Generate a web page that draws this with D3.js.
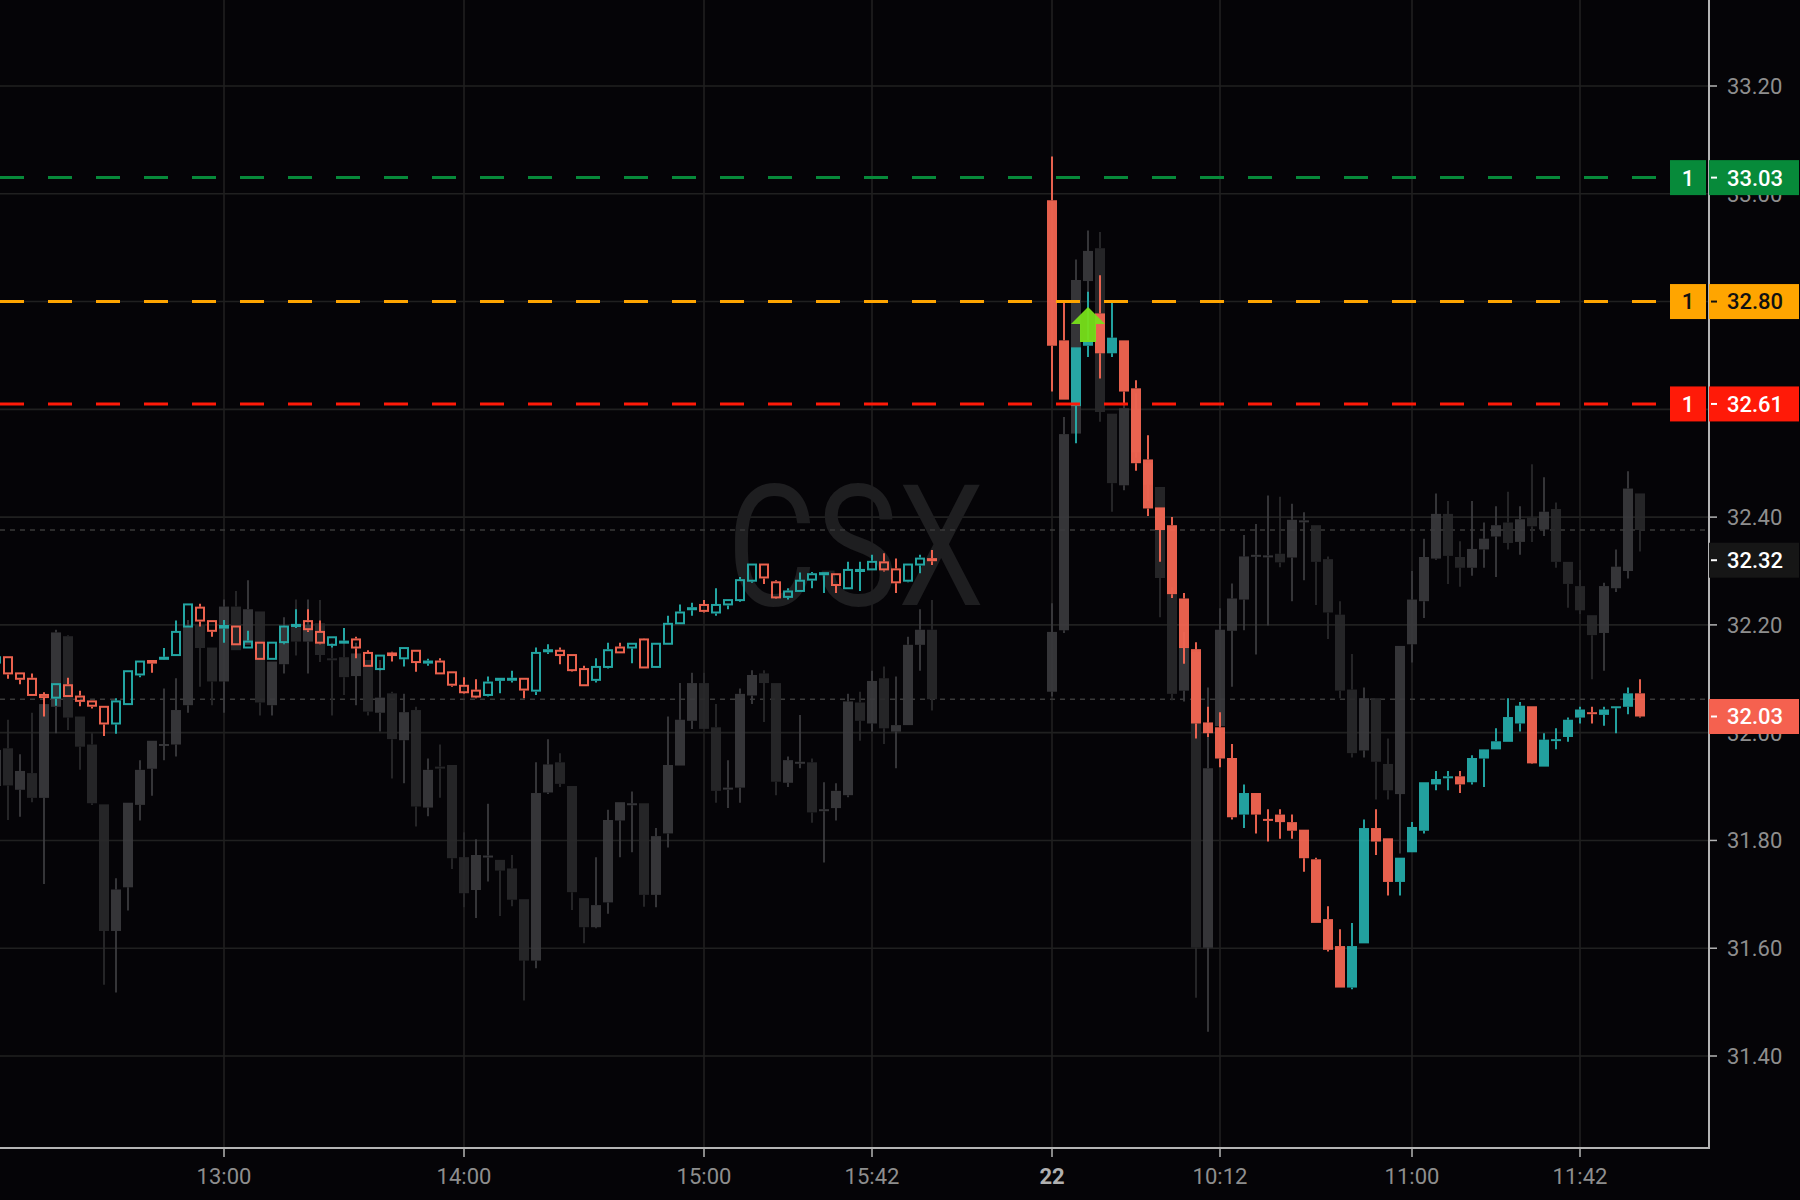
<!DOCTYPE html>
<html><head><meta charset="utf-8">
<script src="https://cdn.jsdelivr.net/npm/d3@7"></script>
<style>html,body{margin:0;padding:0;background:#050407;}svg{display:block}</style>
</head><body><svg id="chart" width="1800" height="1200"></svg>
<script>
// ---------------- DATA ----------------
const symbol = "CSX";
const barMinutes = 3;
const day1Start = "12:03";
const day2Start = "09:30";
// CSX candles [open, high, low, close]
const csxDay1 = [
[32.13,32.145,32.125,32.14],[32.14,32.14,32.10,32.11],[32.11,32.11,32.09,32.10],[32.10,32.11,32.07,32.07],
[32.07,32.075,32.03,32.066],[32.065,32.09,32.05,32.09],[32.088,32.102,32.066,32.068],[32.067,32.078,32.049,32.059],
[32.058,32.058,32.045,32.05],[32.048,32.048,31.994,32.017],[32.017,32.064,31.998,32.058],[32.053,32.114,32.052,32.114],
[32.108,32.132,32.103,32.132],[32.133,32.135,32.111,32.13],[32.137,32.157,32.135,32.139],[32.144,32.208,32.144,32.187],
[32.197,32.238,32.197,32.238],[32.232,32.239,32.197,32.208],[32.207,32.207,32.178,32.189],
[32.195,32.209,32.167,32.198],[32.197,32.197,32.164,32.164],[32.158,32.189,32.158,32.169],[32.167,32.167,32.137,32.137],
[32.137,32.167,32.137,32.167],[32.168,32.197,32.164,32.197],[32.198,32.229,32.194,32.2],[32.207,32.229,32.187,32.192],
[32.187,32.208,32.164,32.167],[32.163,32.177,32.158,32.177],[32.167,32.194,32.166,32.169],[32.173,32.178,32.138,32.158],
[32.148,32.153,32.124,32.124],[32.118,32.143,32.116,32.143],[32.147,32.15,32.132,32.144],[32.138,32.157,32.123,32.157],
[32.152,32.152,32.113,32.131],[32.13,32.137,32.124,32.132],[32.132,32.138,32.11,32.11],[32.112,32.112,32.085,32.089],
[32.087,32.103,32.072,32.075],[32.078,32.099,32.064,32.067],[32.07,32.104,32.067,32.093],[32.098,32.1,32.073,32.1],
[32.099,32.115,32.093,32.1],[32.1,32.1,32.064,32.08],[32.078,32.158,32.07,32.148],[32.151,32.164,32.146,32.153],
[32.152,32.158,32.127,32.144],[32.144,32.144,32.113,32.116],[32.118,32.124,32.087,32.088],[32.098,32.138,32.093,32.122],
[32.122,32.167,32.119,32.153],[32.158,32.167,32.149,32.149],[32.158,32.165,32.129,32.165],[32.173,32.175,32.119,32.121],
[32.122,32.167,32.122,32.165],[32.165,32.217,32.165,32.202],[32.203,32.238,32.203,32.223],[32.229,32.241,32.217,32.231],
[32.237,32.246,32.223,32.226],[32.223,32.268,32.217,32.237],[32.238,32.246,32.229,32.246],[32.246,32.289,32.243,32.283],
[32.282,32.312,32.278,32.312],[32.312,32.312,32.276,32.288],[32.279,32.283,32.248,32.251],[32.252,32.268,32.247,32.262],
[32.263,32.297,32.263,32.282],[32.284,32.298,32.268,32.294],[32.294,32.297,32.259,32.296],[32.294,32.294,32.259,32.274],
[32.268,32.317,32.268,32.302],[32.3,32.317,32.263,32.302],[32.303,32.33,32.303,32.317],[32.316,32.333,32.299,32.303],
[32.303,32.323,32.259,32.279],[32.282,32.312,32.279,32.312],[32.312,32.33,32.296,32.323],[32.322,32.339,32.311,32.32]
];
const csxDay2 = [
[32.988,33.069,32.633,32.718],[32.728,32.801,32.618,32.618],[32.606,32.715,32.537,32.715],[32.718,32.818,32.697,32.728],
[32.778,32.849,32.657,32.704],[32.704,32.801,32.697,32.733],[32.728,32.728,32.608,32.633],[32.639,32.654,32.486,32.5],
[32.507,32.552,32.402,32.416],[32.418,32.418,32.317,32.376],[32.385,32.40,32.25,32.257],[32.249,32.259,32.128,32.157],
[32.155,32.168,31.989,32.017],[32.019,32.048,31.992,31.999],[32.01,32.038,31.936,31.952],[31.953,31.979,31.839,31.843],
[31.848,31.904,31.823,31.888],[31.888,31.888,31.813,31.848],[31.84,31.858,31.798,31.838],[31.848,31.858,31.803,31.834],
[31.834,31.848,31.803,31.818],[31.82,31.82,31.742,31.767],[31.765,31.768,31.647,31.647],[31.654,31.678,31.594,31.597],
[31.604,31.635,31.527,31.527],[31.527,31.647,31.524,31.604],[31.609,31.839,31.609,31.823],[31.823,31.858,31.773,31.798],
[31.804,31.804,31.698,31.723],[31.723,31.768,31.698,31.768],[31.778,31.834,31.778,31.825],[31.818,31.908,31.813,31.908],
[31.904,31.929,31.893,31.914],[31.918,31.929,31.893,31.919],[31.919,31.929,31.888,31.904],[31.908,31.958,31.904,31.953],
[31.952,31.969,31.899,31.969],[31.969,32.008,31.969,31.984],[31.983,32.064,31.983,32.029],[32.017,32.057,32.002,32.05],
[32.049,32.049,31.942,31.943],[31.937,31.999,31.937,31.987],[31.987,32.008,31.969,31.988],[31.992,32.028,31.983,32.024],
[32.028,32.048,32.017,32.043],[32.038,32.048,32.017,32.036],[32.033,32.048,32.013,32.043],[32.048,32.049,31.999,32.049],
[32.048,32.084,32.034,32.073],[32.073,32.099,32.028,32.03]
];
// compared symbol (grey overlay), expressed on the same price axis [open, high, low, close]
const cmpDay1 = [
[31.901,31.985,31.88,31.968],[31.971,32.024,31.838,31.902],[31.894,31.96,31.844,31.929],[31.925,32.037,31.871,31.879],
[31.879,32.053,31.719,32.053],[32.048,32.191,31.999,32.186],[32.179,32.181,32.005,32.028],[32.03,32.03,31.931,31.974],
[31.978,31.999,31.866,31.869],[31.867,31.867,31.532,31.632],[31.632,31.73,31.518,31.709],[31.713,31.87,31.67,31.87],
[31.866,31.949,31.837,31.931],[31.933,31.985,31.883,31.985],[31.978,32.082,31.949,31.979],[31.978,32.101,31.956,32.042],
[32.051,32.209,32.037,32.197],[32.2,32.2,32.085,32.157],[32.158,32.158,32.051,32.095],
[32.095,32.247,32.037,32.234],[32.234,32.263,32.153,32.153],[32.163,32.283,32.163,32.229],[32.225,32.225,32.032,32.056],
[32.051,32.132,32.032,32.132],[32.127,32.214,32.11,32.197],[32.2,32.247,32.143,32.169],[32.169,32.247,32.11,32.2],
[32.203,32.246,32.131,32.144],[32.138,32.167,32.032,32.137],[32.14,32.194,32.07,32.103],[32.105,32.167,32.051,32.147],
[32.135,32.135,32.032,32.039],[32.037,32.135,32.002,32.065],[32.073,32.076,31.915,31.988],[31.986,32.072,31.906,32.038],
[32.042,32.048,31.826,31.863],[31.861,31.952,31.845,31.931],[31.937,31.978,31.879,31.936],[31.94,31.94,31.747,31.767],
[31.769,31.815,31.676,31.702],[31.708,31.802,31.656,31.773],[31.772,31.868,31.724,31.772],[31.764,31.764,31.66,31.744],
[31.748,31.773,31.678,31.69],[31.691,31.691,31.503,31.577],[31.577,31.945,31.563,31.888],[31.889,31.988,31.886,31.941],
[31.945,31.962,31.899,31.905],[31.901,31.901,31.671,31.704],[31.693,31.693,31.609,31.639],[31.639,31.769,31.637,31.68],
[31.685,31.857,31.664,31.838],[31.837,31.871,31.769,31.871],[31.869,31.891,31.778,31.869],[31.869,31.869,31.677,31.699],
[31.699,31.823,31.676,31.808],[31.813,32.03,31.787,31.94],[31.939,32.092,31.939,32.024],[32.022,32.111,32.007,32.092],
[32.092,32.111,32.007,32.007],[32.01,32.053,31.87,31.892],[31.898,31.949,31.86,31.898],[31.898,32.082,31.87,32.072],
[32.069,32.116,32.053,32.107],[32.11,32.116,32.02,32.092],[32.092,32.092,31.884,31.909],[31.907,31.956,31.899,31.949],
[31.946,32.033,31.934,31.946],[31.945,31.952,31.833,31.852],[31.858,31.908,31.759,31.858],[31.86,31.906,31.837,31.892],
[31.884,32.072,31.88,32.058],[32.056,32.076,31.985,32.022],[32.017,32.115,32.002,32.096],[32.101,32.123,31.979,32.008],
[32.002,32.104,31.934,32.014],[32.014,32.178,32.014,32.163],[32.163,32.229,32.115,32.191],[32.191,32.246,32.041,32.062]
];
const cmpDay2 = [
[32.076,32.24,32.067,32.187],[32.19,32.586,32.185,32.554],[32.555,32.878,32.555,32.84],[32.838,32.932,32.8,32.894],
[32.899,32.929,32.577,32.595],[32.592,32.592,32.41,32.463],[32.459,32.62,32.45,32.602],[32.6,32.63,32.51,32.52],
[32.5,32.5,32.43,32.46],[32.456,32.456,32.214,32.287],[32.257,32.27,32.06,32.072],[32.078,32.187,32.058,32.158],
[32.15,32.16,31.508,31.601],[31.601,32.084,31.445,31.934],[32.012,32.231,32.0,32.191],[32.189,32.277,32.085,32.249],
[32.247,32.367,32.19,32.327],[32.329,32.387,32.145,32.33],[32.328,32.44,32.199,32.329],[32.332,32.438,32.307,32.316],
[32.325,32.425,32.244,32.395],[32.393,32.409,32.283,32.394],[32.385,32.385,32.237,32.317],[32.322,32.327,32.174,32.223],
[32.219,32.244,32.064,32.078],[32.08,32.146,31.954,31.962],[31.967,32.084,31.954,32.064],[32.064,32.064,31.876,31.946],
[31.942,31.989,31.876,31.893],[31.886,32.161,31.776,32.161],[32.164,32.3,32.13,32.247],[32.244,32.36,32.213,32.326],
[32.323,32.444,32.321,32.406],[32.406,32.43,32.276,32.328],[32.326,32.355,32.271,32.306],[32.306,32.43,32.291,32.341],
[32.34,32.39,32.306,32.36],[32.364,32.42,32.289,32.385],[32.39,32.447,32.34,32.352],[32.354,32.42,32.33,32.396],
[32.399,32.498,32.354,32.383],[32.377,32.474,32.365,32.41],[32.415,32.427,32.306,32.317],[32.317,32.317,32.232,32.276],
[32.272,32.302,32.22,32.227],[32.218,32.218,32.099,32.181],[32.185,32.278,32.115,32.272],[32.268,32.34,32.261,32.308],
[32.3,32.485,32.286,32.453],[32.444,32.444,32.336,32.376]
];
const priceTicks = [31.40,31.60,31.80,32.00,32.20,32.40,32.60,32.80,33.00,33.20];
const timeTickDays = [1,1,1,1,2,2,2,2];
const timeTickTimes = ["13:00","14:00","15:00","15:42","09:30","10:12","11:00","11:42"];
const timeTickLabels = ["13:00","14:00","15:00","15:42","22","10:12","11:00","11:42"];
const orderPrices = [33.03, 32.80, 32.61];
const orderQty = ["1","1","1"];
const orderColors = ["#078a3a","#ffa500","#ff1a08"];
const orderTextColors = ["#ffffff","#111111","#ffffff"];
const refLinePrices = [32.376, 32.062];
const lastPrice = 32.03;
const comparePrice = 32.32;
const buyMarkerTime = "09:39";
const buyMarkerPrice = 32.79;

// ---------------- LAYOUT ----------------
const plotRight = 1709, plotBottom = 1148, gapBars = 9;
const FONT = "Roboto, 'Liberation Sans', Arial, sans-serif";
const UP = "#26b3b0", DOWN = "#ff6a55";
const GREY_UP = "#3b3b3e", GREY_DOWN = "#29292b";

const mins = t => { const [h, m] = t.split(":").map(Number); return h * 60 + m; };
const day1Min = d3.range(csxDay1.length).map(i => mins(day1Start) + i * barMinutes);
const day2Offset = day1Min[day1Min.length - 1] + barMinutes * (1 + gapBars) - mins(day2Start);
const day2Min = d3.range(csxDay2.length).map(i => mins(day2Start) + i * barMinutes + day2Offset);
const sessionMin = (day, t) => day === 1 ? mins(t) : mins(t) + day2Offset;

const x = d3.scaleLinear().domain([mins("13:00"), mins("14:00")]).range([224, 464]);
const y = d3.scaleLinear().domain([31.4, 33.2]).range([1056, 86]);

const svg = d3.select("#chart");
svg.append("rect").attr("width", 1800).attr("height", 1200).attr("fill", "#050407");
svg.append("defs").append("clipPath").attr("id", "plot")
  .append("rect").attr("x", 0).attr("y", 0).attr("width", plotRight).attr("height", plotBottom);

const plot = svg.append("g").attr("clip-path", "url(#plot)");

// grid
plot.append("g").selectAll("line").data(priceTicks).join("line")
  .attr("x1", 0).attr("x2", plotRight).attr("y1", d => y(d)).attr("y2", d => y(d))
  .attr("stroke", "#202020").attr("stroke-width", 1.6);
plot.append("g").selectAll("line").data(timeTickTimes).join("line")
  .attr("x1", (d, i) => x(sessionMin(timeTickDays[i], d))).attr("x2", (d, i) => x(sessionMin(timeTickDays[i], d)))
  .attr("y1", 0).attr("y2", plotBottom).attr("stroke", "#202020").attr("stroke-width", 1.6);

// watermark
plot.append("text").text(symbol).attr("x", 727).attr("y", 605)
  .attr("font-family", FONT).attr("font-size", 168).attr("textLength", 257)
  .attr("lengthAdjust", "spacingAndGlyphs").attr("fill", "#1e1e20");

// reference dotted lines
plot.append("g").selectAll("line").data(refLinePrices).join("line")
  .attr("x1", 0).attr("x2", plotRight).attr("y1", d => y(d)).attr("y2", d => y(d))
  .attr("stroke", "#3a3a3a").attr("stroke-width", 1.5).attr("stroke-dasharray", "5,5");

function drawCandles(g, data, times, opt) {
  const bars = data.map((d, i) => ({ o: d[0], h: d[1], l: d[2], c: d[3], t: times[i] }));
  const gg = g.append("g").attr("opacity", opt.opacity);
  bars.forEach(b => {
    const up = b.c >= b.o;
    const col = up ? opt.up : opt.down;
    const cx = x(b.t);
    const top = y(Math.max(b.o, b.c)), bot = y(Math.min(b.o, b.c));
    const hh = Math.max(bot - top, opt.minH);
    const pad = opt.hollow ? 1 : 0;
    if (y(b.h) < top - pad) gg.append("line").attr("x1", cx).attr("x2", cx)
      .attr("y1", y(b.h)).attr("y2", top - pad).attr("stroke", col).attr("stroke-width", 2);
    if (y(b.l) > top + hh + pad) gg.append("line").attr("x1", cx).attr("x2", cx)
      .attr("y1", top + hh + pad).attr("y2", y(b.l)).attr("stroke", col).attr("stroke-width", 2);
    if (opt.hollow) {
      gg.append("rect").attr("x", cx - 4).attr("y", top).attr("width", 8).attr("height", hh)
        .attr("fill", "none").attr("stroke", col).attr("stroke-width", 2);
    } else {
      gg.append("rect").attr("x", cx - 5).attr("y", top).attr("width", 10).attr("height", hh)
        .attr("fill", col);
    }
  });
}

const candles = plot.append("g");
drawCandles(candles, cmpDay1, day1Min, { up: GREY_UP, down: GREY_DOWN, hollow: false, minH: 2, opacity: 0.9 });
drawCandles(candles, cmpDay2, day2Min, { up: GREY_UP, down: GREY_DOWN, hollow: false, minH: 2, opacity: 0.9 });
drawCandles(candles, csxDay1, day1Min, { up: UP, down: DOWN, hollow: true, minH: 1, opacity: 0.92 });
drawCandles(candles, csxDay2, day2Min, { up: UP, down: DOWN, hollow: false, minH: 2, opacity: 0.9 });

// buy marker arrow
const ax = x(sessionMin(2, buyMarkerTime)), ay = y(buyMarkerPrice);
plot.append("path")
  .attr("d", `M${ax},${ay} L${ax + 17},${ay + 17} L${ax + 8},${ay + 17} L${ax + 8},${ay + 35} L${ax - 8},${ay + 35} L${ax - 8},${ay + 17} L${ax - 17},${ay + 17} Z`)
  .attr("fill", "#78e01a").attr("opacity", 0.95);

// order lines
plot.append("g").selectAll("line").data(orderPrices).join("line")
  .attr("x1", 0).attr("x2", 1670).attr("y1", d => y(d)).attr("y2", d => y(d))
  .attr("stroke", (d, i) => orderColors[i]).attr("stroke-width", 3).attr("stroke-dasharray", "24,24");

// axes
svg.append("line").attr("x1", plotRight).attr("x2", plotRight).attr("y1", 0).attr("y2", plotBottom + 1)
  .attr("stroke", "#b4b4b4").attr("stroke-width", 2);
svg.append("line").attr("x1", 0).attr("x2", plotRight + 1).attr("y1", plotBottom).attr("y2", plotBottom)
  .attr("stroke", "#b4b4b4").attr("stroke-width", 2);

// price ticks (labels fully covered by a value box are not drawn, as in the reference)
const boxPrices = orderPrices.concat([comparePrice, lastPrice]);
const pt = svg.append("g");
priceTicks.forEach(p => {
  pt.append("line").attr("x1", plotRight + 1).attr("x2", plotRight + 8).attr("y1", y(p)).attr("y2", y(p))
    .attr("stroke", "#b4b4b4").attr("stroke-width", 1.5);
  const covered = boxPrices.some(b => Math.abs(y(b) - y(p)) < 10);
  if (!covered) pt.append("text").text(p.toFixed(2)).attr("x", 1727).attr("y", y(p)).attr("dy", "0.36em")
    .attr("font-family", FONT).attr("font-size", 22).attr("fill", "#8e8e8e");
});

// time ticks
const tt = svg.append("g");
timeTickTimes.forEach((t, i) => {
  const tx = x(sessionMin(timeTickDays[i], t));
  tt.append("line").attr("x1", tx).attr("x2", tx).attr("y1", plotBottom + 1).attr("y2", plotBottom + 9)
    .attr("stroke", "#b4b4b4").attr("stroke-width", 1.5);
  const isDay = timeTickLabels[i].indexOf(":") < 0;
  tt.append("text").text(timeTickLabels[i]).attr("x", tx).attr("y", 1176).attr("dy", "0.36em")
    .attr("text-anchor", "middle").attr("font-family", FONT).attr("font-size", 22)
    .attr("font-weight", isDay ? "bold" : "normal").attr("fill", isDay ? "#b0b0b0" : "#8e8e8e");
});

// value label helper
function valueLabel(price, bg, fg) {
  const g = svg.append("g");
  g.append("rect").attr("x", plotRight).attr("y", y(price) - 17.5).attr("width", 90).attr("height", 35).attr("fill", bg);
  g.append("line").attr("x1", plotRight + 2).attr("x2", plotRight + 8).attr("y1", y(price)).attr("y2", y(price))
    .attr("stroke", fg).attr("stroke-width", 2);
  g.append("text").text(price.toFixed(2)).attr("x", 1727).attr("y", y(price)).attr("dy", "0.36em")
    .attr("font-family", FONT).attr("font-size", 22).attr("font-weight", 500).attr("fill", fg);
}
// order labels
orderPrices.forEach((p, i) => {
  svg.append("rect").attr("x", 1670).attr("y", y(p) - 17.5).attr("width", 36).attr("height", 35).attr("fill", orderColors[i]);
  svg.append("text").text(orderQty[i]).attr("x", 1688).attr("y", y(p)).attr("dy", "0.36em").attr("text-anchor", "middle")
    .attr("font-family", FONT).attr("font-size", 22).attr("font-weight", 500).attr("fill", orderTextColors[i]);
  valueLabel(p, orderColors[i], orderTextColors[i]);
});
valueLabel(comparePrice, "#161616", "#ffffff");
valueLabel(lastPrice, "#f5614f", "#ffffff");
</script></body></html>
